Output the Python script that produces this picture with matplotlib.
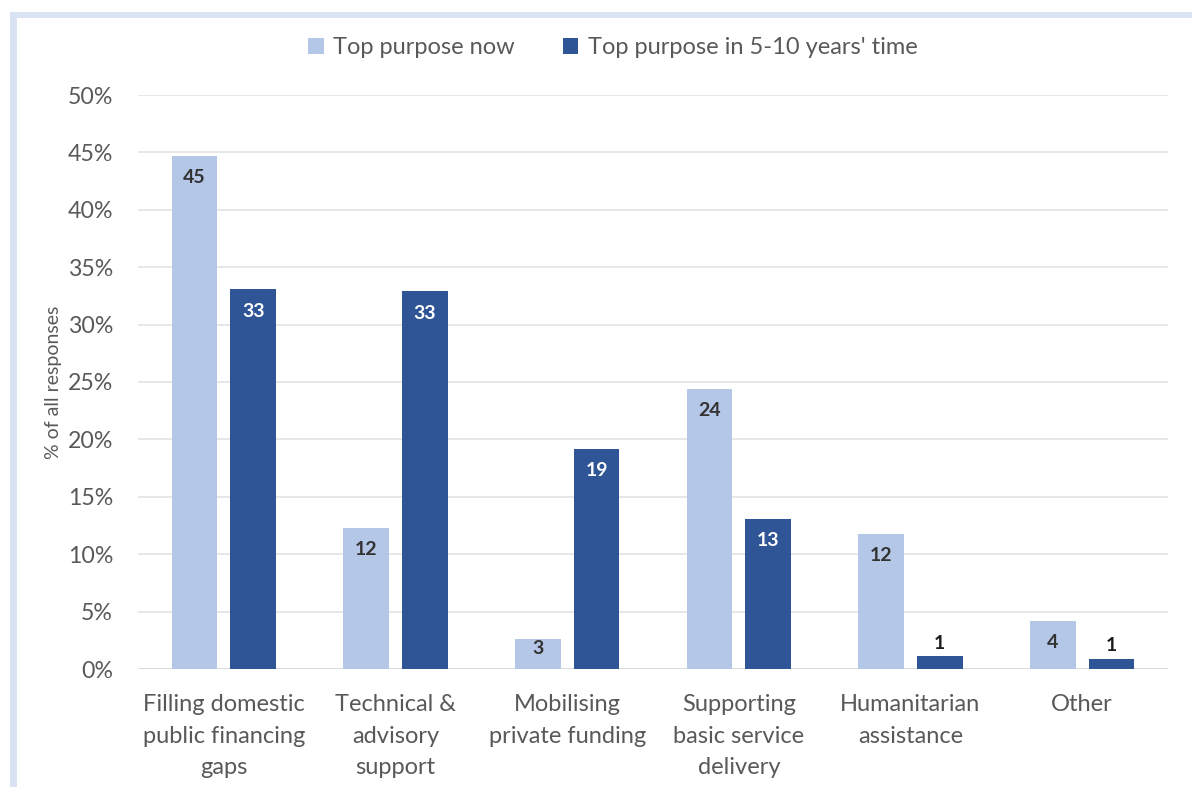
import matplotlib
matplotlib.use("Agg")
import matplotlib.pyplot as plt
from matplotlib.patches import Rectangle, Patch
import numpy as np

categories = ["Filling domestic\npublic financing\ngaps", "Technical &\nadvisory\nsupport",
              "Mobilising\nprivate funding", "Supporting\nbasic service\ndelivery",
              "Humanitarian\nassistance", "Other"]
now_vals = [44.7, 12.3, 2.6, 24.4, 11.8, 4.2]
future_vals = [33.1, 32.9, 19.2, 13.1, 1.1, 0.9]
series_names = ["Top purpose now", "Top purpose in 5-10 years' time"]
yticks = [0, 5, 10, 15, 20, 25, 30, 35, 40, 45, 50]

LIGHT = "#B4C7E7"
DARK = "#2F5597"
FONT = ["Lato", "DejaVu Sans"]
plt.rcParams['font.family'] = FONT

W, H = 1192, 787
fig = plt.figure(figsize=(W / 100, H / 100), dpi=100)
fig.patch.set_facecolor("white")

# light blue frame (top and left)
fig.patches.append(Rectangle((10 / W, 0), 7 / W, 1 - 12 / H, transform=fig.transFigure,
                             facecolor="#DAE3F3", edgecolor="none", zorder=0))
fig.patches.append(Rectangle((10 / W, 1 - 18 / H), 1 - 10 / W, 6 / H, transform=fig.transFigure,
                             facecolor="#DAE3F3", edgecolor="none", zorder=0))

ax_left, ax_right = 138 / W, 1168 / W
ax_bottom, ax_top = 1 - 669 / H, 1 - 95 / H
ax = fig.add_axes([ax_left, ax_bottom, ax_right - ax_left, ax_top - ax_bottom])

x = np.arange(len(categories))
bw = 0.267
gap = 0.075
off = (bw + gap) / 2
b1 = ax.bar(x - off, now_vals, bw, color=LIGHT, zorder=3)
b2 = ax.bar(x + off, future_vals, bw, color=DARK, zorder=3)

ax.set_xlim(-0.5, len(categories) - 0.5)
ax.set_ylim(0, 50)
ax.set_yticks(yticks)
ax.set_yticklabels([f"{t}%" for t in yticks], fontsize=16.7, color="#595959")
ax.set_xticks(x)
ax.set_xticklabels(categories, fontsize=17, color="#595959", linespacing=1.62)
ax.tick_params(axis="both", length=0)
ax.tick_params(axis="x", pad=18)
ax.tick_params(axis="y", pad=18)
ax.grid(axis="y", color="#E3E3E3", linewidth=1.2, zorder=0)
for s in ax.spines.values():
    s.set_visible(False)
ax.axhline(0, color="#D9D9D9", linewidth=1.2, zorder=2)

ax.set_ylabel("% of all responses", fontsize=14, color="#595959")
ax.yaxis.set_label_coords(-0.074, 0.5)

px_per_unit = (669 - 95) / 50.0


def label_bars(bars, vals, inside_color):
    for b, v in zip(bars, vals):
        h_px = v * px_per_unit
        cx = b.get_x() + b.get_width() / 2
        txt = f"{v:.0f}"
        if h_px < 20:
            ax.annotate(txt, (cx, v), xytext=(0, 13), textcoords="offset pixels",
                        ha="center", va="center", fontsize=14, fontweight="bold",
                        color="#1A1A1A", zorder=4)
        else:
            down = min(22, h_px - 21)
            ax.annotate(txt, (cx, v), xytext=(0, -down), textcoords="offset pixels",
                        ha="center", va="center", fontsize=14, fontweight="bold",
                        color=inside_color, zorder=4)


label_bars(b1, now_vals, "#333333")
label_bars(b2, future_vals, "white")

handles = [Patch(facecolor=LIGHT, edgecolor="none"), Patch(facecolor=DARK, edgecolor="none")]
fig.legend(handles, series_names, loc="center", bbox_to_anchor=(613 / W, 1 - 48 / H),
           ncol=2, frameon=False, fontsize=17, handlelength=0.65, handleheight=0.65,
           handletextpad=0.4, columnspacing=2.05, labelcolor="#595959")

fig.savefig("out.png", dpi=100, facecolor="white")
